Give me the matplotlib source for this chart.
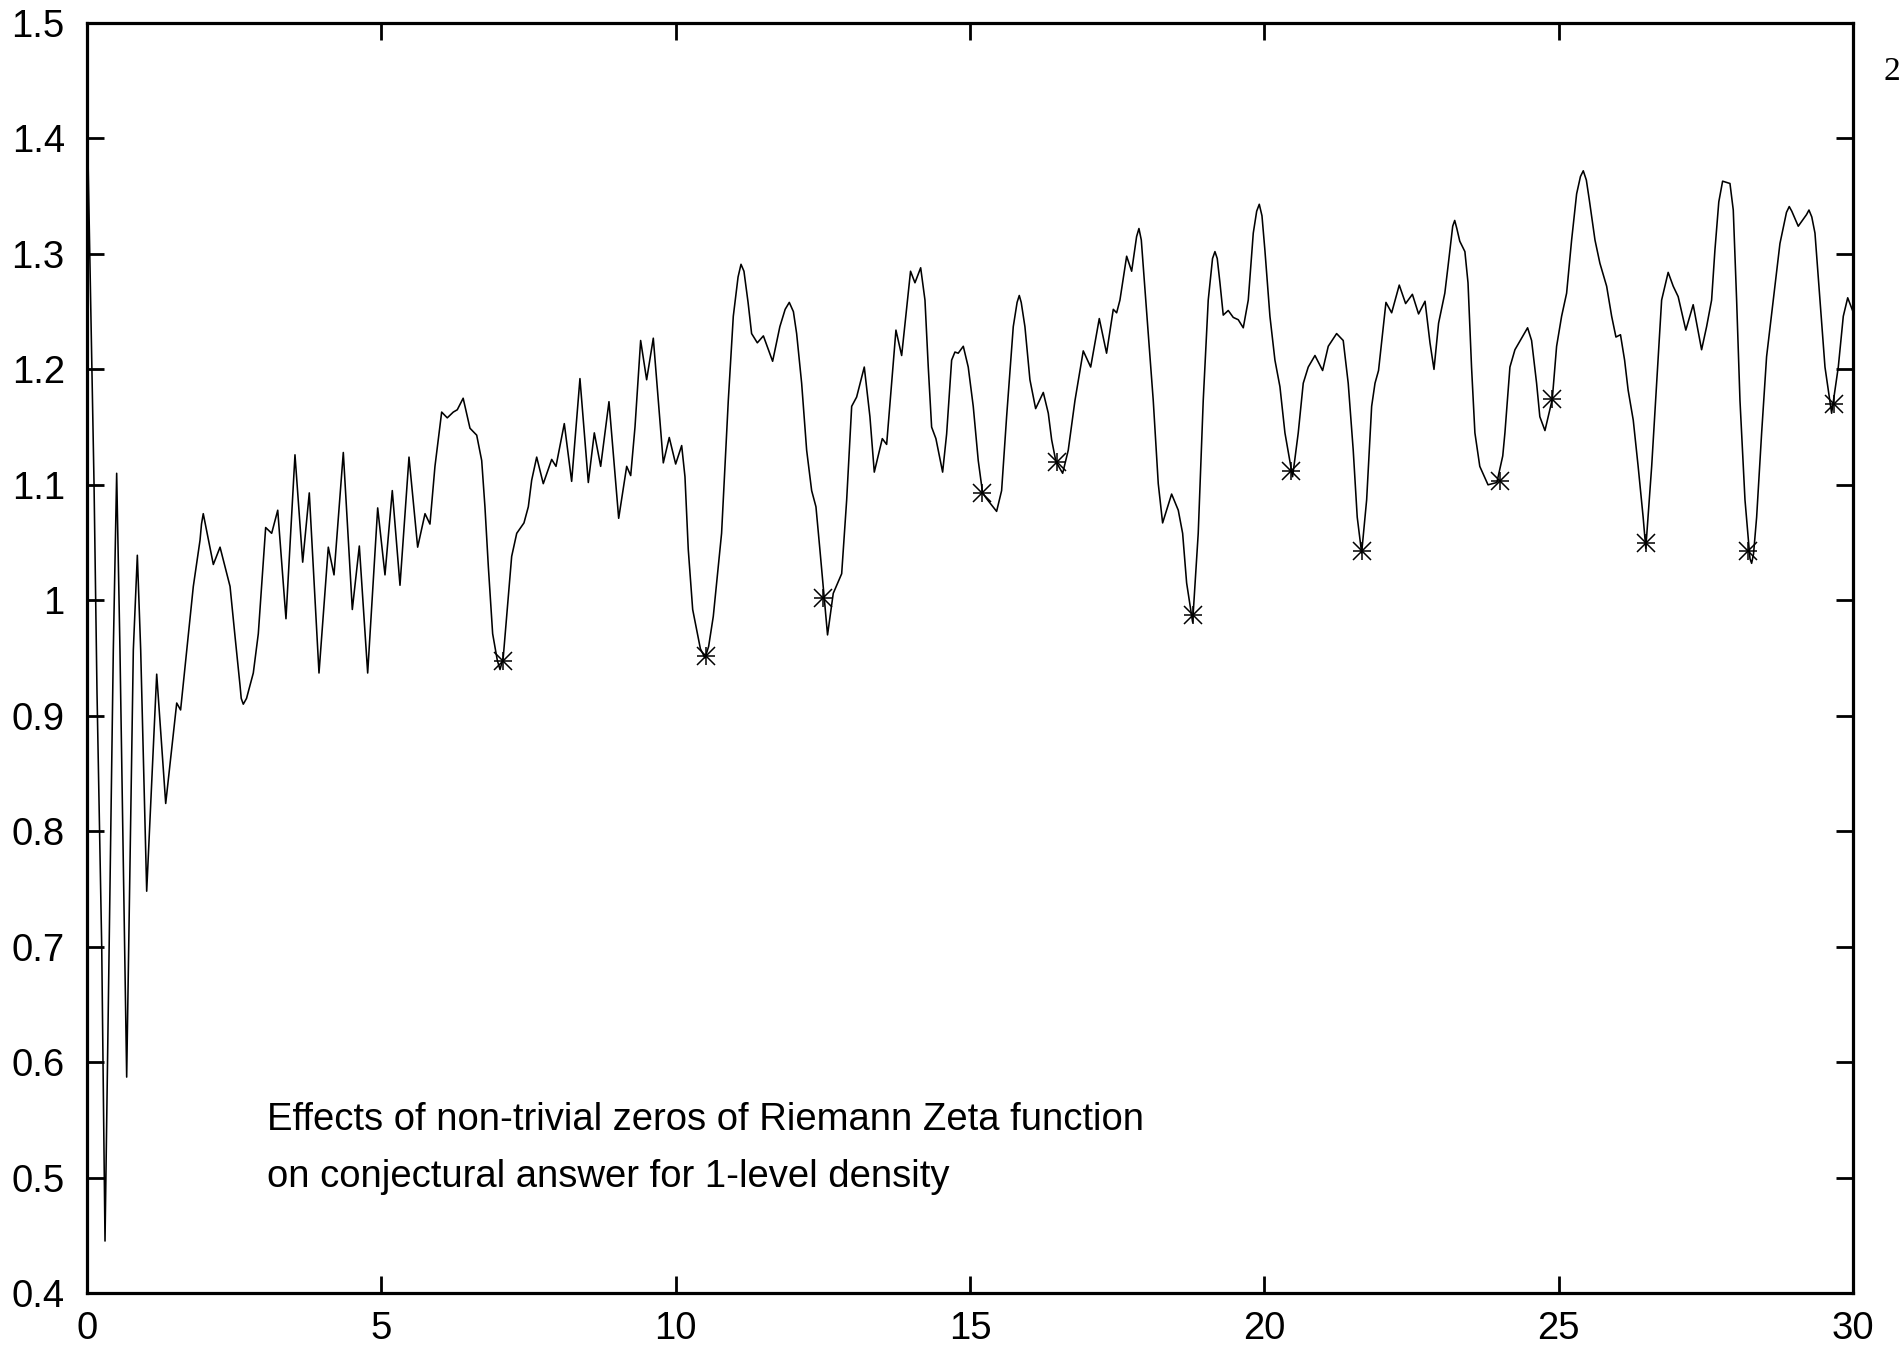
import matplotlib
matplotlib.use("Agg")
import matplotlib.pyplot as plt

# ---- data ----
curve_x = [0.000, 0.119, 0.170, 0.250, 0.306, 0.447, 0.504, 0.560, 0.674, 0.787,
           0.855, 0.912, 1.014, 1.184, 1.337, 1.524, 1.590, 1.720, 1.806, 1.920,
           1.945, 1.975, 2.010, 2.146, 2.260, 2.430, 2.514, 2.600, 2.620, 2.655,
           2.710, 2.825, 2.910, 3.035,
           3.137, 3.240, 3.380, 3.533, 3.664, 3.776, 3.941, 4.099, 4.196, 4.354,
           4.507, 4.626, 4.768, 4.938, 5.062, 5.186, 5.317, 5.470, 5.617, 5.742,
           5.826, 5.911, 6.025, 6.120, 6.222, 6.290, 6.390, 6.506, 6.620, 6.705,
           6.760, 6.818, 6.891, 6.970, 7.016, 7.070, 7.129, 7.214, 7.300, 7.423, 7.497, 7.554,
           7.639, 7.751, 7.894, 7.967, 8.108, 8.233, 8.374, 8.516, 8.618, 8.726,
           8.867, 9.032, 9.168, 9.236, 9.309, 9.405, 9.507, 9.620, 9.705, 9.790,
           9.891, 10.000, 10.102, 10.158, 10.214, 10.289, 10.420, 10.498, 10.560, 10.639, 10.780, 10.894,
           10.979, 11.060, 11.110, 11.160, 11.230, 11.290, 11.387, 11.490, 11.647, 11.770,
           11.860, 11.930, 12.000, 12.055, 12.140,
           12.225, 12.310, 12.383, 12.450, 12.580, 12.677, 12.820, 12.905, 12.990, 13.074,
           13.204, 13.300, 13.374, 13.510, 13.584, 13.669, 13.742, 13.839, 13.990, 14.065,
           14.162, 14.235, 14.291, 14.348, 14.421, 14.535, 14.603, 14.688, 14.744, 14.800,
           14.886, 14.970, 15.055, 15.140, 15.214, 15.282, 15.452, 15.537, 15.622, 15.735,
           15.800, 15.837, 15.870, 15.933, 16.018, 16.115, 16.245, 16.330, 16.387, 16.460, 16.574, 16.669,
           16.783, 16.924, 17.050, 17.196, 17.320, 17.434, 17.491, 17.547, 17.661, 17.746,
           17.830, 17.870, 17.910, 17.943, 18.028, 18.113, 18.198, 18.272, 18.425, 18.538, 18.612, 18.680,
           18.782, 18.877, 18.962, 19.047, 19.120, 19.161, 19.200, 19.246, 19.302, 19.387, 19.472, 19.557,
           19.642, 19.727, 19.812, 19.870, 19.914, 19.960, 20.010, 20.095, 20.180, 20.265, 20.350, 20.480,
           20.576, 20.661, 20.746, 20.860, 20.990, 21.086, 21.228, 21.340, 21.425, 21.510,
           21.578, 21.653, 21.738, 21.823, 21.880, 21.940, 22.066, 22.163, 22.292, 22.400,
           22.515, 22.620, 22.730, 22.814, 22.882, 22.960, 23.066, 23.120, 23.200, 23.234, 23.270, 23.320,
           23.407, 23.460, 23.520, 23.577, 23.660, 23.800, 23.950, 24.050, 24.087, 24.172,
           24.257, 24.472, 24.540, 24.625, 24.680, 24.767, 24.891, 24.965, 25.050, 25.135,
           25.220, 25.305, 25.370, 25.418, 25.470, 25.520, 25.617, 25.700, 25.815, 25.900, 25.973, 26.050,
           26.120, 26.180, 26.267, 26.350, 26.435, 26.480, 26.580, 26.664, 26.749, 26.860,
           26.946, 27.030, 27.160, 27.285, 27.428, 27.513, 27.598, 27.654, 27.720, 27.785, 27.910,
           27.966, 28.023, 28.080, 28.165, 28.250, 28.278, 28.310, 28.363, 28.448, 28.532, 28.645, 28.759,
           28.870, 28.917, 28.960, 29.070, 29.210, 29.252, 29.300, 29.354, 29.439, 29.524, 29.637, 29.750, 29.835, 29.910,
           30.000]
curve_y = [1.430, 1.102, 0.920, 0.700, 0.445, 0.957, 1.110, 0.957, 0.587, 0.957,
           1.039, 0.957, 0.748, 0.936, 0.824, 0.911, 0.905, 0.969, 1.012, 1.052,
           1.066, 1.075, 1.066, 1.031, 1.046, 1.012, 0.969, 0.926, 0.915, 0.910,
           0.915, 0.937, 0.971, 1.063,
           1.058, 1.078, 0.984, 1.126, 1.033, 1.093, 0.937, 1.046, 1.022, 1.128,
           0.992, 1.047, 0.937, 1.080, 1.022, 1.095, 1.013, 1.124, 1.046, 1.075,
           1.066, 1.116, 1.163, 1.158, 1.163, 1.165, 1.175, 1.149, 1.143, 1.121,
           1.081, 1.029, 0.971, 0.948, 0.940, 0.950, 0.986, 1.038, 1.058, 1.067, 1.081, 1.104,
           1.124, 1.101, 1.122, 1.116, 1.153, 1.103, 1.192, 1.102, 1.145, 1.116,
           1.172, 1.071, 1.116, 1.108, 1.150, 1.225, 1.191, 1.227, 1.173, 1.119,
           1.141, 1.118, 1.134, 1.107, 1.044, 0.992, 0.958, 0.950, 0.960, 0.986, 1.058, 1.173,
           1.246, 1.280, 1.291, 1.285, 1.258, 1.231, 1.223, 1.229, 1.207, 1.237,
           1.252, 1.258, 1.250, 1.231, 1.188,
           1.130, 1.095, 1.081, 1.044, 0.970, 1.006, 1.023, 1.087, 1.168, 1.176,
           1.202, 1.159, 1.111, 1.140, 1.135, 1.188, 1.234, 1.212, 1.285, 1.275,
           1.288, 1.260, 1.202, 1.150, 1.140, 1.111, 1.144, 1.208, 1.215, 1.214,
           1.220, 1.202, 1.168, 1.121, 1.093, 1.088, 1.077, 1.095, 1.159, 1.237,
           1.258, 1.264, 1.258, 1.237, 1.191, 1.166, 1.180, 1.162, 1.139, 1.120, 1.110, 1.130,
           1.173, 1.216, 1.202, 1.244, 1.214, 1.252, 1.249, 1.260, 1.298, 1.285,
           1.315, 1.322, 1.312, 1.289, 1.231, 1.173, 1.101, 1.067, 1.092, 1.078, 1.058, 1.015,
           0.981, 1.058, 1.173, 1.260, 1.296, 1.302, 1.296, 1.275, 1.247, 1.251, 1.245, 1.243,
           1.236, 1.260, 1.318, 1.337, 1.343, 1.333, 1.303, 1.246, 1.208, 1.185, 1.145, 1.107,
           1.145, 1.188, 1.202, 1.212, 1.199, 1.220, 1.231, 1.225, 1.188, 1.130,
           1.072, 1.041, 1.087, 1.168, 1.188, 1.199, 1.258, 1.249, 1.273, 1.257,
           1.265, 1.248, 1.259, 1.223, 1.200, 1.240, 1.266, 1.289, 1.324, 1.329, 1.322, 1.311,
           1.302, 1.275, 1.202, 1.145, 1.116, 1.100, 1.102, 1.125, 1.145, 1.202,
           1.217, 1.236, 1.225, 1.188, 1.159, 1.147, 1.174, 1.220, 1.246, 1.266,
           1.312, 1.352, 1.367, 1.372, 1.364, 1.347, 1.312, 1.292, 1.272, 1.246, 1.228, 1.230,
           1.208, 1.182, 1.156, 1.116, 1.072, 1.045, 1.116, 1.188, 1.260, 1.284,
           1.272, 1.263, 1.234, 1.256, 1.217, 1.237, 1.260, 1.303, 1.345, 1.363, 1.361,
           1.338, 1.260, 1.173, 1.087, 1.036, 1.032, 1.040, 1.072, 1.145, 1.211, 1.260, 1.309,
           1.336, 1.341, 1.337, 1.324, 1.334, 1.338, 1.332, 1.318, 1.260, 1.202, 1.162, 1.202, 1.246, 1.262,
           1.250]

star_x = [7.07, 10.51, 12.51, 15.21, 16.47, 18.79, 20.46, 21.66, 24.00, 24.89, 26.49, 28.22, 29.67]
star_y = [0.947, 0.952, 1.002, 1.093, 1.120, 0.987, 1.112, 1.043, 1.103, 1.174, 1.050, 1.043, 1.170]

x_ticks = [0, 5, 10, 15, 20, 25, 30]
x_ticklabels = ["0", "5", "10", "15", "20", "25", "30"]
y_ticks = [0.4, 0.5, 0.6, 0.7, 0.8, 0.9, 1.0, 1.1, 1.2, 1.3, 1.4, 1.5]
y_ticklabels = ["0.4", "0.5", "0.6", "0.7", "0.8", "0.9", "1", "1.1", "1.2", "1.3", "1.4", "1.5"]

annotation_lines = ["Effects of non-trivial zeros of Riemann Zeta function",
                    "on conjectural answer for 1-level density"]
page_number = "2"

# ---- figure ----
plt.rcParams['font.family'] = ['Liberation Sans', 'DejaVu Sans']

W, H = 1902, 1352
fig = plt.figure(figsize=(W / 100, H / 100), dpi=100)
ax = fig.add_axes([87 / W, 1 - 1293 / H, (1853 - 87) / W, (1293 - 23) / H])

ax.plot(curve_x, curve_y, color='black', lw=1.15, solid_joinstyle='round')
ax.plot(star_x, star_y, linestyle='none', marker='+', ms=12.5, mew=1.1, color='black')
ax.plot(star_x, star_y, linestyle='none', marker='x', ms=12.5, mew=1.1, color='black')

ax.set_xlim(0, 30)
ax.set_ylim(0.4, 1.5)
ax.set_xticks(x_ticks)
ax.set_xticklabels(x_ticklabels)
ax.set_yticks(y_ticks)
ax.set_yticklabels(y_ticklabels)

ax.tick_params(axis='both', which='both', direction='in', length=12, width=2.0,
               top=True, right=True, labelsize=27.5, colors='black')
ax.tick_params(axis='y', pad=16)
ax.tick_params(axis='x', pad=13)
for s in ax.spines.values():
    s.set_linewidth(2.3)
    s.set_color('black')

ax.text((267 - 87) / (1853 - 87), (1293 - 1130) / (1293 - 23), annotation_lines[0],
        transform=ax.transAxes, fontsize=27.5, ha='left', va='baseline')
ax.text((267 - 87) / (1853 - 87), (1293 - 1187) / (1293 - 23), annotation_lines[1],
        transform=ax.transAxes, fontsize=27.5, ha='left', va='baseline')

fig.text(1900 / W, 1 - 80 / H, page_number, fontsize=24,
         family=['Liberation Serif', 'DejaVu Serif'], ha='right', va='baseline')

fig.savefig('out.png', dpi=100)
